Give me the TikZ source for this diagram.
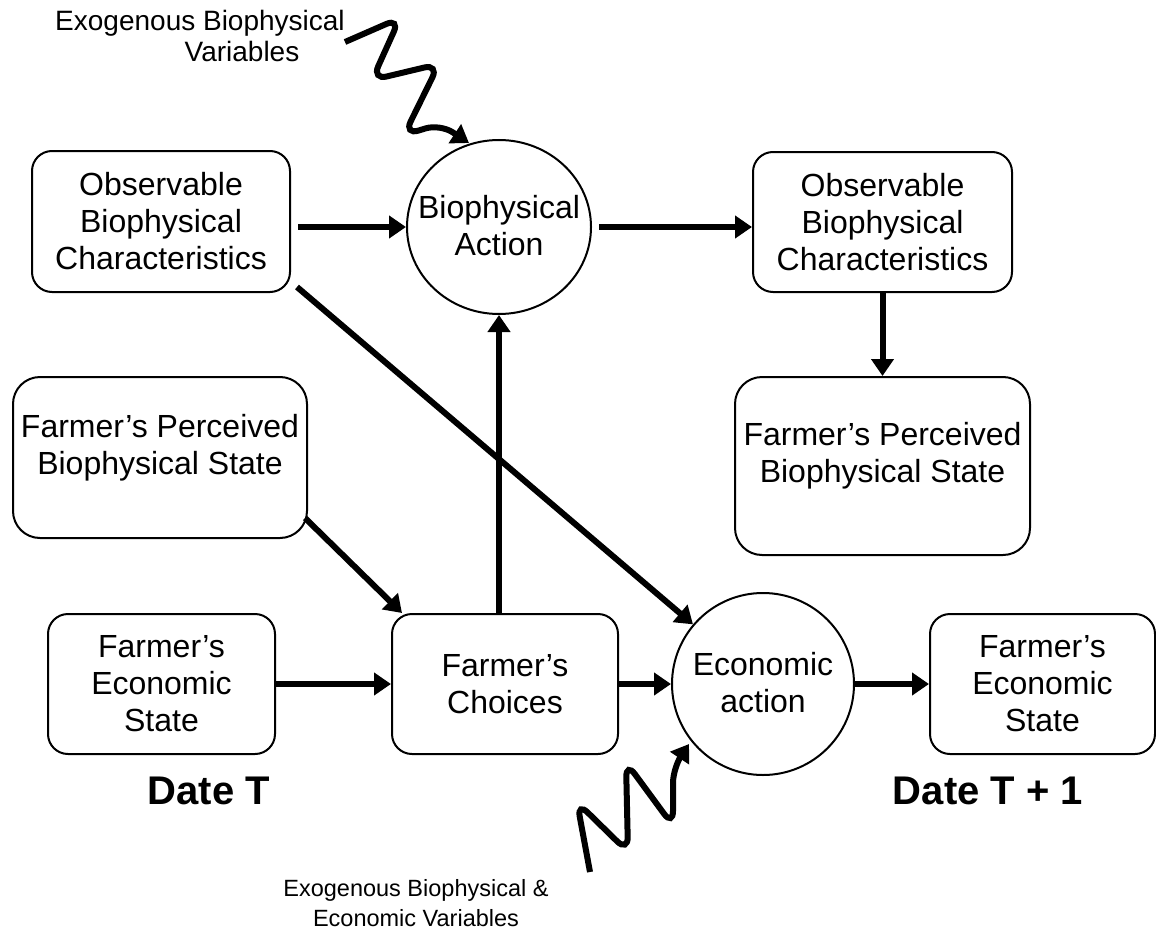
\documentclass[tikz,border=0pt]{standalone}
\usepackage{fontspec}
\setmainfont{Liberation Sans}
\usetikzlibrary{arrows.meta,shapes.geometric,calc}
\begin{document}
\begin{tikzpicture}[x=1pt,y=-1pt,
  box/.style={draw,line width=2pt,rounded corners=20pt,align=center,inner sep=0pt,
    font=\fontsize{32}{37}\selectfont},
  shell/.style={draw,line width=2pt,rounded corners=27pt,inner sep=0pt},
  act/.style={draw,line width=2pt,ellipse,inner sep=0pt},
  txt/.style={align=center,inner sep=0pt,font=\fontsize{32}{37}\selectfont},
  arr/.style={line width=6pt,-{Triangle[length=17pt,width=22pt]}},
  wavy/.style={line width=6pt,rounded corners=15pt,-{Triangle[length=17pt,width=22pt]}},
  lbl/.style={align=center,inner sep=0pt,font=\fontsize{23.5}{30}\selectfont},
  toplbl/.style={align=center,inner sep=0pt,font=\fontsize{28}{31}\selectfont},
  date/.style={inner sep=0pt,font=\fontsize{40}{46}\selectfont\bfseries}
]
\useasboundingbox (0,0) rectangle (1156,939);

% nodes
\node[box,minimum width=258pt,minimum height=141pt] (obs1) at (161,221.5)
  {Observable\\Biophysical\\Characteristics};
\node[box,minimum width=259pt,minimum height=140pt] (obs2) at (882.5,222)
  {Observable\\Biophysical\\Characteristics};
\node[act,minimum width=184pt,minimum height=174pt] (bio) at (499,227) {};
\node[txt] (biot) at (499,226) {Biophysical\\Action};
\node[shell,minimum width=294pt,minimum height=161pt] (percl) at (160,457.5) {};
\node[txt] (perclt) at (160,448) {Farmer’s Perceived\\Biophysical State};
\node[shell,minimum width=295pt,minimum height=178pt] (percr) at (882.5,466) {};
\node[txt] (percrt) at (882.5,456) {Farmer’s Perceived\\Biophysical State};
\node[box,minimum width=227pt,minimum height=140pt] (econl) at (161.5,684)
  {Farmer’s\\Economic\\State};
\node[box,minimum width=226pt,minimum height=140pt] (choice) at (505,684)
  {Farmer’s\\Choices};
\node[act,minimum width=182pt,minimum height=182pt] (econa) at (763,684) {};
\node[txt] (econat) at (763,683) {Economic\\action};
\node[box,minimum width=225pt,minimum height=140pt] (econr) at (1042.5,684)
  {Farmer’s\\Economic\\State};

\node[toplbl] (exo1) at (200,36) {Exogenous Biophysical\\\hspace*{84pt}Variables};
\node[lbl] (exo2) at (416,903) {Exogenous Biophysical \&\\Economic Variables};
\node[date] (dt) at (209,791) {Date T};
\node[date] (dt1) at (988,791) {Date T + 1};

% connectors
\draw[arr,shorten <=7pt] (obs1.east |- bio.west) -- (bio.west);
\draw[arr,shorten <=7pt] (bio.east) -- (obs2.west |- bio.east);
\draw[arr] (obs2.south) -- (percr.north);
\draw[arr] (choice.north -| bio.south) -- (bio.south);
\coordinate (o1s) at (297,287);
\draw[arr] (o1s) -- (econa);
\coordinate (pls) at (305,518);
\coordinate (pltip) at (402,613);
\draw[arr] (pls) -- (pltip);
\draw[arr] (econl.east) -- (choice.west);
\draw[arr] (choice.east) -- (econa.west);
\draw[arr] (econa.east) -- (econr.west);

% wavy arrows
\coordinate (w1s) at (345,42);
\coordinate (w1e) at (469,143);
\draw[wavy] (w1s) -- (400,18) -- (372,80) -- (439,64) -- (404,135) -- (440,124) -- (w1e);
\coordinate (w2s) at (590,872);
\coordinate (w2e) at (689,744);
\draw[wavy] (w2s) -- (577,802) -- (628,852) -- (626,762) -- (673,826) -- (673,768) -- (w2e);
\end{tikzpicture}
\end{document}
